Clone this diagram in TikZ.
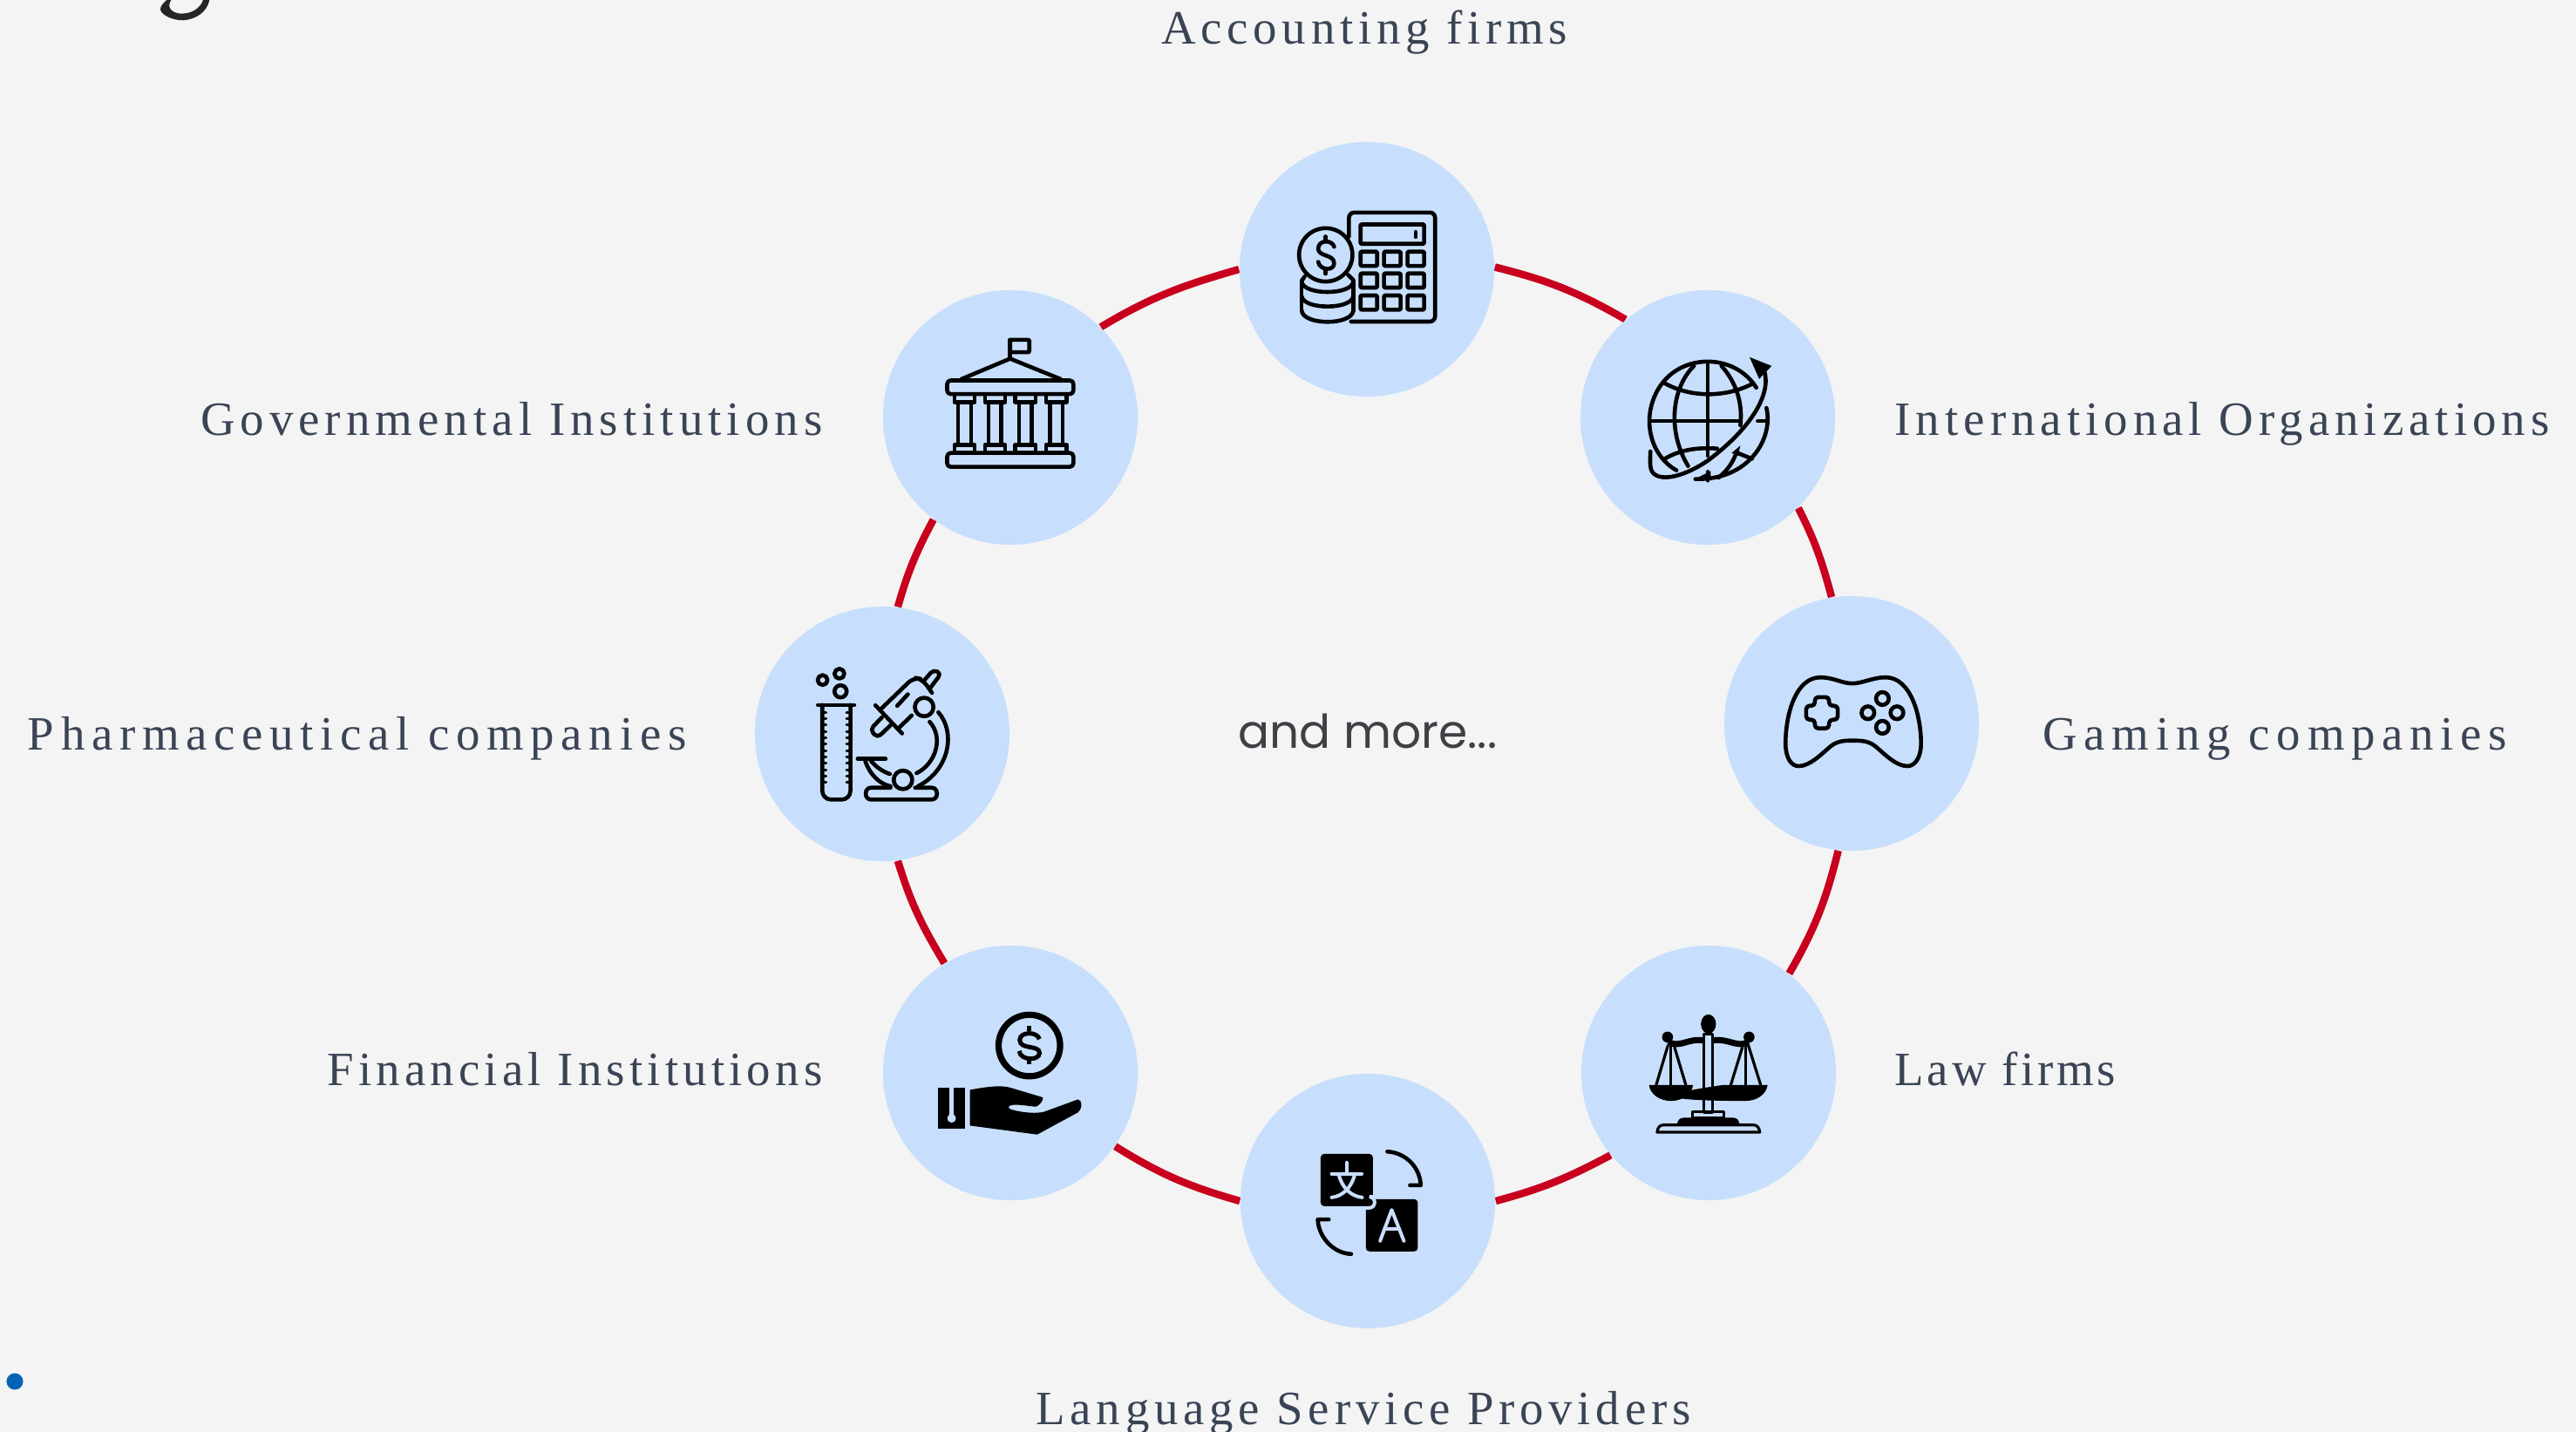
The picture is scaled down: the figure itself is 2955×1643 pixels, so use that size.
\documentclass[tikz,border=0pt]{standalone}
\usepackage{fontspec}
\setmainfont{Liberation Serif}
\newfontfamily\morefont{Poppins}
\usetikzlibrary{backgrounds}
\definecolor{pagegrey}{HTML}{F4F4F4}
\definecolor{hubblue}{HTML}{C7DFFC}
\definecolor{ringred}{HTML}{C8001E}
\definecolor{labelslate}{HTML}{3A4456}
\definecolor{moregrey}{HTML}{3F3F46}
\definecolor{dotblue}{HTML}{0563B5}
\tikzset{
	hub/.style={circle,fill=hubblue,minimum size=2.92cm,inner sep=0pt},
	ringline/.style={draw=ringred,line width=0.085cm},
	labeltext/.style={text=labelslate,inner sep=0pt,font=\fontsize{15.6}{18}\selectfont},
	iconline/.style={draw=black,line width=0.046cm,line cap=round,line join=round},
	iconthin/.style={draw=black,line width=0.032cm,line cap=round,line join=round},
	zoomed/.style 2 args={shift={(#1,-#2)},x=0.0033333cm,y=-0.0033333cm},
}
\begin{document}
\begin{tikzpicture}[x=0.01cm,y=0.01cm]
	\useasboundingbox (0,0) rectangle (2955,-1643);
	\foreach \hubname/\x/\y in {accounting/1568/309, international/1959/479, gaming/2124/830, law/1960/1231, language/1569/1378, financial/1159/1231, pharma/1012/842, government/1159/479} {
		\node[hub] (\hubname) at (\x,-\y) {};
	}
	\foreach \hubname/\anch/\x/\y/\tracking/\caption in {
		accounting/base/1565/51/10.4/Accounting firms,
		international/base west/2173/500/10.95/International Organizations,
		gaming/base west/2343/860/13.9/Gaming companies,
		law/base west/2173/1245/6.9/Law firms,
		language/base/1564/1634/10.5/Language Service Providers,
		financial/base east/944/1245/9.4/Financial Institutions,
		pharma/base east/788/860/14/Pharmaceutical companies,
		government/base east/944/500/11/Governmental Institutions} {
		\node[labeltext,anchor=\anch] (\hubname label) at (\x,-\y) {\addfontfeature{LetterSpace=\tracking}\caption};
	}
	\node[text=moregrey,inner sep=0pt,font=\morefont\fontsize{15.2}{18}\selectfont] (more) at (1569,-839) {and more...};
	\node[circle,fill=dotblue,minimum size=0.19cm,inner sep=0pt] (marker) at (17,-1585) {};

	\begin{scope}[on background layer]
		\fill[pagegrey] (0,0) rectangle (2955,-1643);
		\draw[ringline] (accounting.1) to[out=-14,in=150] (international.130);
		\draw[ringline] (international.-45) to[out=-63,in=105] (gaming.99);
		\draw[ringline] (gaming.-96) to[out=-104,in=60] (law.51);
		\draw[ringline] (law.220) to[out=208,in=15] (language.0);
		\draw[ringline] (language.180) to[out=164,in=-32] (financial.-35);
		\draw[ringline] (financial.121) to[out=121,in=-73] (pharma.-83);
		\draw[ringline] (pharma.83) to[out=74,in=-118] (government.-127);
		\draw[ringline] (government.45) to[out=31,in=196] (accounting.180);
	\end{scope}

	\begin{scope}[zoomed={0}{0}]
		\fill[black!85!pagegrey] (575,0) .. controls (560,12) and (553,22) .. (553,33) .. controls (556,52) and (595,70) .. (630,70) .. controls (675,68) and (715,40) .. (722,0) -- (700,0) .. controls (690,30) and (660,47) .. (625,47) .. controls (600,47) and (570,30) .. (590,0) -- cycle;
	\end{scope}

	\begin{scope}[zoomed={1380}{140}]
		\draw[iconline,rounded corners=0.06cm] (503,395) -- (503,312) -- (800,312) -- (800,688) -- (510,688);
		\draw[iconline,rounded corners=0.01cm] (543,353) rectangle (762,420);
		\draw[iconline] (733,379) -- (733,396);
		\foreach \bx in {543,624,705} {
			\foreach \by in {447,522,598} {
				\draw[iconline,rounded corners=0.01cm] (\bx,\by) rectangle (\bx+57,\by+49);
			}
		}
		\draw[iconline] (423,458) circle (92);
		\draw[iconline] (452,430) .. controls (445,405) and (397,405) .. (397,437) .. controls (397,465) and (452,455) .. (452,487) .. controls (452,515) and (402,512) .. (397,482);
		\draw[iconline] (423,395) -- (423,410);
		\draw[iconline] (423,510) -- (423,523);
		\draw[iconline] (340,548) -- (340,652);
		\draw[iconline] (518,548) -- (518,652);
		\draw[iconline] (340,550) .. controls (345,598) and (513,598) .. (518,550);
		\draw[iconline] (340,600) .. controls (345,648) and (513,648) .. (518,600);
		\draw[iconline] (340,650) .. controls (345,702) and (513,702) .. (518,650);
		\draw[iconline] (350,533) -- (340,548);
		\draw[iconline] (500,527) -- (518,545);
	\end{scope}

	\begin{scope}[zoomed={1000}{320}]
		\draw[iconline,rounded corners=0.01cm] (477,210) rectangle (543,253);
		\draw[iconline] (477,210) -- (477,275);
		\draw[iconline] (310,345) -- (477,275) -- (650,345);
		\draw[iconline,rounded corners=0.04cm] (260,350) rectangle (695,397);
		\draw[iconline,rounded corners=0.04cm] (260,600) rectangle (695,648);
		\foreach \cx in {320,425,530,636} {
			\draw[iconline] (\cx-35,397) rectangle (\cx+35,425);
			\draw[iconline] (\cx-35,572) rectangle (\cx+35,600);
			\draw[iconline] (\cx-22,425) -- (\cx-22,572);
			\draw[iconline] (\cx+22,425) -- (\cx+22,572);
		}
	\end{scope}

	\begin{scope}[zoomed={1800}{320}]
		\draw[iconline] (645,375) .. controls (570,255) and (385,255) .. (310,375) .. controls (245,480) and (280,610) .. (370,660);
		\draw[iconline] (680,445) .. controls (705,550) and (620,695) .. (435,690);
		\draw[iconline] (478,295) -- (478,610);
		\draw[iconline] (478,665) -- (478,695);
		\draw[iconline] (285,490) -- (590,490);
		\draw[iconline] (650,490) -- (680,490);
		\draw[iconline] (430,300) .. controls (350,380) and (340,530) .. (410,645);
		\draw[iconline] (525,300) .. controls (570,350) and (600,420) .. (590,505);
		\draw[iconline] (572,610) .. controls (560,640) and (540,665) .. (515,685);
		\draw[iconline] (330,360) .. controls (420,410) and (540,410) .. (635,360);
		\draw[iconline] (330,620) .. controls (380,590) and (440,580) .. (510,585);
		\draw[iconline] (580,600) -- (630,620);
		\draw[iconline] (672,315) .. controls (700,400) and (620,520) .. (480,625) .. controls (400,680) and (320,700) .. (290,670) .. controls (275,655) and (280,620) .. (280,595);
		\fill (622,270) -- (698,300) -- (655,345) -- cycle;
		\fill (590,575) -- (560,600) -- (582,610) -- cycle;
		\fill (430,692) -- (488,662) -- (488,695) -- cycle;
	\end{scope}

	\begin{scope}[zoomed={1980}{680}]
		\draw[iconline] (435,313) .. controls (400,313) and (370,292) .. (325,292) .. controls (240,292) and (205,420) .. (205,520) .. controls (205,570) and (225,598) .. (250,598) .. controls (290,598) and (330,555) .. (360,530) .. controls (385,510) and (410,510) .. (435,510) .. controls (465,510) and (490,510) .. (515,530) .. controls (545,555) and (585,598) .. (625,598) .. controls (650,598) and (672,570) .. (672,520) .. controls (672,420) and (635,292) .. (550,292) .. controls (505,292) and (470,313) .. (435,313) -- cycle;
		\draw[iconline,rounded corners=0.04cm] (306,360) -- (355,360) -- (355,390) -- (385,390) -- (385,438) -- (355,438) -- (355,468) -- (306,468) -- (306,438) -- (276,438) -- (276,390) -- (306,390) -- cycle;
		\foreach \kx/\ky in {539/365, 489/414, 589/414, 539/464} {
			\draw[iconline] (\kx,\ky) circle (22);
		}
	\end{scope}

	\begin{scope}[zoomed={1820}{1120}]
		\fill (420,165) ellipse (26 and 33);
		\draw[iconthin] (405,200) rectangle (433,470);
		\draw[line width=0.07cm] (282,226) .. controls (320,250) and (350,212) .. (405,222);
		\draw[line width=0.07cm] (433,222) .. controls (490,212) and (520,250) .. (558,226);
		\fill (279,210) circle (19);
		\fill (560,210) circle (19);
		\foreach \px in {0,257} {
			\fill (215+\px,375) .. controls (220,410) and (255,430) .. (291+\px,430) .. controls (327+\px,430) and (362+\px,410) .. (367+\px,375) -- cycle;
			\draw[iconthin] (291+\px,240) -- (291+\px,375);
		}
		\draw[iconthin] (280,240) -- (240,375);
		\draw[iconthin] (303,245) -- (342,375);
		\draw[iconthin] (537,245) -- (497,375);
		\draw[iconthin] (558,240) -- (600,375);
		\draw[iconthin] (365,468) rectangle (474,488);
		\fill (312,514) .. controls (312,498) and (320,488) .. (335,488) -- (505,488) .. controls (520,488) and (527,498) .. (527,514) -- cycle;
		\draw[iconthin] (243,538) .. controls (245,522) and (252,513) .. (265,513) -- (575,513) .. controls (588,513) and (595,522) .. (597,538) -- cycle;
	\end{scope}

	\begin{scope}[zoomed={1460}{1280}]
		\fill[rounded corners=0.04cm] (321,288) rectangle (500,468);
		\fill[rounded corners=0.04cm] (165,132) rectangle (345,312);
		\draw[hubblue,line width=0.04cm,rounded corners=0.06cm] (345,280) -- (351,280) -- (351,318) -- (300,318);
		\begin{scope}[hubblue,line width=0.04cm,line cap=round]
			\draw (255,162) -- (255,197);
			\draw (203,200) -- (307,200);
			\draw (228,205) .. controls (240,250) and (270,278) .. (308,282);
			\draw (282,205) .. controls (270,250) and (240,278) .. (203,282);
			\draw[line join=round] (370,432) -- (410,325) -- (452,432);
			\draw (385,392) -- (437,392);
		\end{scope}
		\draw[iconline] (395,124) .. controls (460,128) and (508,180) .. (510,240) -- (473,240);
		\draw[iconline] (193,358) -- (155,358) .. controls (158,420) and (210,475) .. (270,477);
	\end{scope}

	\begin{scope}[zoomed={1040}{1130}]
		\draw[line width=0.072cm] (423,209) circle (106);
		\draw[line width=0.05cm] (458,187) .. controls (450,160) and (390,160) .. (390,190) .. controls (390,225) and (458,205) .. (458,235) .. controls (458,262) and (392,262) .. (388,228);
		\draw[line width=0.05cm] (423,142) -- (423,160);
		\draw[line width=0.05cm] (423,255) -- (423,273);
		\fill (108,355) rectangle (200,495);
		\draw[hubblue,line width=0.045cm] (155,355) -- (155,460);
		\fill[hubblue] (155,460) circle (15);
		\fill (218,362) .. controls (280,350) and (330,345) .. (360,355) -- (470,388) .. controls (470,400) and (460,415) .. (445,420) .. controls (420,418) and (380,410) .. (360,415) .. controls (345,420) and (350,428) .. (370,432) .. controls (400,440) and (450,445) .. (475,437) -- (590,395) .. controls (605,395) and (608,425) .. (590,440) -- (450,516) -- (218,485) -- cycle;
	\end{scope}

	\begin{scope}[zoomed={910}{740}]
		\foreach \bx/\by/\br in {101/121/17, 159/99/17, 163/160/21} {
			\draw[iconline] (\bx,\by) circle (\br);
		}
		\draw[iconline] (85,207) -- (210,207);
		\draw[iconline,rounded corners=0.1cm] (100,207) -- (100,533) -- (197,533) -- (197,207);
		\foreach \ty in {232,254,...,495} {
			\draw[iconthin] (100,\ty) -- (113,\ty);
			\draw[iconthin] (197,\ty) -- (184,\ty);
		}
		\draw[iconline,rounded corners=0.05cm] (453,120) -- (483,85) -- (510,98) -- (472,148);
		\draw[iconline,rounded corners=0.08cm] (305,218) -- (415,112) -- (445,118) -- (478,165);
		\draw[iconline] (360,290) -- (408,243);
		\draw[iconline] (283,208) -- (375,305);
		\draw[iconline,rounded corners=0.05cm] (305,250) -- (265,292) -- (290,320) -- (335,277);
		\draw[iconline] (358,210) -- (395,170);
		\draw[iconline] (451,214) circle (32);
		\draw[iconline] (500,232) .. controls (560,300) and (540,430) .. (430,487);
		\draw[iconline] (470,265) .. controls (520,320) and (490,410) .. (425,442);
		\draw[iconline] (222,393) -- (318,393);
		\draw[iconline] (248,400) .. controls (265,450) and (300,480) .. (335,487);
		\draw[iconline] (268,400) .. controls (285,420) and (305,435) .. (333,445);
		\draw[iconline] (378,465) circle (32);
		\draw[iconline,rounded corners=0.06cm] (335,492) -- (250,492) -- (250,533) -- (495,533) -- (495,492) -- (420,492);
	\end{scope}
\end{tikzpicture}
\end{document}
